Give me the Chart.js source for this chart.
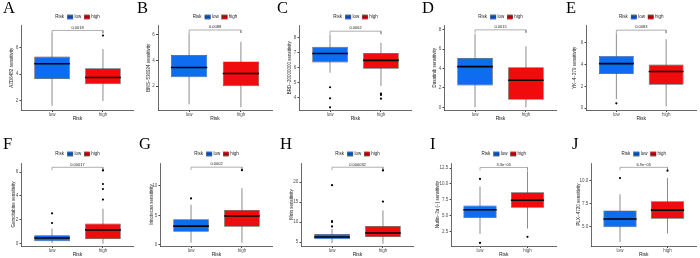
<!DOCTYPE html>
<html><head><meta charset="utf-8">
<script src="https://cdn.jsdelivr.net/npm/chart.js@4.4.0/dist/chart.umd.min.js"></script>
<style>
html,body{margin:0;padding:0;background:#fff}
body{width:700px;height:258px;position:relative;overflow:hidden}
canvas.p{position:absolute}
.lt{position:absolute;font-family:"Liberation Serif","DejaVu Serif",serif;font-size:16.5px;line-height:1;color:#000}
</style></head><body>
<script>
// ---------------- data ----------------
const panelLetters = ['A','B','C','D','E','F','G','H','I','J'];
const drugNames = ['AZD6482','BMS\u2212536924','BRD\u221220000000','Dasatinib','YK\u22124\u2212279',
                   'Gemcitabine','Irinotecan','Mirin','Nutlin\u22123a (\u2212)','PLX\u22124720'];
const groups = ['low','high'];
const legendTitle = 'Risk';
const xTitle = 'Risk';
const pValues = ['0.0018','0.0088','0.0062','0.0015','0.0083','0.00017','0.0002','0.000032','3.3e\u221205','6.9e\u221205'];
// box statistics [min, q1, median, q3, max]
const lowStats = [
  [1.63,3.65,4.78,5.33,7.08],
  [0.60,2.70,3.45,4.42,6.10],
  [5.64,6.33,6.93,7.38,8.20],
  [0.00,2.26,4.20,5.10,7.60],
  [0.82,3.14,4.09,4.80,6.87],
  [0.03,0.20,0.47,0.70,1.26],
  [0.39,2.22,3.17,4.33,6.78],
  [4.75,5.67,6.25,7.00,8.30],
  [2.14,4.64,5.95,6.62,9.60],
  [3.36,4.96,5.86,6.79,8.54]
];
const highStats = [
  [2.00,3.25,3.75,4.45,5.88],
  [0.37,2.00,2.98,3.92,5.44],
  [4.76,5.91,6.47,6.96,7.64],
  [0.00,0.77,2.80,4.14,6.30],
  [0.15,2.15,3.36,4.00,6.33],
  [0.00,0.39,1.15,1.68,2.93],
  [0.39,3.06,4.89,5.89,9.56],
  [4.58,6.25,7.25,9.00,12.90],
  [3.00,6.26,7.45,8.69,12.00],
  [4.29,5.89,6.82,7.79,10.30]
];
const lowOutliers = [[],[],[4.67,3.93,3.33],[],[0.43],[1.73,2.54],[7.83],[8.9,10.0,10.25,19.2],[10.8,0.74],[10.3]];
const highOutliers = [[6.9],[],[4.24,4.16,3.91],[],[],[3.69,4.58,5.0,6.14],[12.6],[15.1,22.9],[1.7],[11.1]];
const bracketY = [7.28,6.35,8.42,8.0,7.17,6.4,13.1,23.7,12.6,11.46];
const yMin = [1.32,0.16,3.15,-0.28,-0.18,-0.2,-0.17,4.0,0.25,2.93];
const yMax = [7.65,6.70,8.80,8.45,7.60,6.76,13.8,24.75,13.3,11.93];
const yTicks = [[2,4,6],[2,4,6],[4,5,6,7,8],[0,2,4,6,8],[0,2,4,6],[0,2,4,6],[0,5,10],[5,10,15,20],[2.5,5,7.5,10,12.5],[5,7.5,10]];
const yTickLabels = [['2','4','6'],['2','4','6'],['4','5','6','7','8'],['0','2','4','6','8'],['0','2','4','6'],
  ['0','2','4','6'],['0','5','10'],['5','10','15','20'],['2.5','5.0','7.5','10.0','12.5'],['5.0','7.5','10.0']];

// ---------------- layout / style ----------------
const PANEL_W = 140, PANEL_H = 129;
const LAYOUT = [
  {plotL:21.5, plotR:133.5, titleX:11.7, letterX:3},
  {plotL:158,  plotR:272,   titleX:149,  letterX:137},
  {plotL:299.5,plotR:411.5, titleX:290,  letterX:277},
  {plotL:444.5,plotR:556.5, titleX:435,  letterX:422},
  {plotL:586.5,plotR:698.5, titleX:575,  letterX:566},
  {plotL:21.5, plotR:133.5, titleX:14,   letterX:3},
  {plotL:160.5,plotR:272.5, titleX:152,  letterX:139},
  {plotL:301.5,plotR:413.5, titleX:292,  letterX:280},
  {plotL:451.5,plotR:559.5, titleX:438,  letterX:430},
  {plotL:591.5,plotR:699,   titleX:579,  letterX:572}
];
const ROWS = [
  {top:25.5, bottom:110, legendY:17, xTitlePad:7, letterTop:0},
  {top:34,   bottom:117, legendY:25, xTitlePad:0, letterTop:135.5}
];
const COLORS = ['#0d6cf0','#f00c0c'];
const BOX_BORDER = '#4d4d4d', WHISKER = '#8c8c8c', AXIS = '#444';
const BOX_WIDTH = 0.7;
const FONT = '"Liberation Sans", Arial, sans-serif';
Chart.defaults.font.family = FONT;

panelLetters.forEach((letter, i) => {
  const L = LAYOUT[i];
  const row = i < 5 ? 0 : 1, col = i % 5;
  const R = ROWS[row];
  const cx = col * PANEL_W, cy = row * PANEL_H;

  const canvas = document.createElement('canvas');
  canvas.width = PANEL_W; canvas.height = PANEL_H;
  canvas.className = 'p';
  canvas.style.left = cx + 'px'; canvas.style.top = cy + 'px';
  document.body.appendChild(canvas);

  const lt = document.createElement('div');
  lt.className = 'lt'; lt.textContent = letter;
  lt.style.left = L.letterX + 'px'; lt.style.top = R.letterTop + 'px';
  document.body.appendChild(lt);

  const stats = [lowStats[i], highStats[i]];
  const outl = [lowOutliers[i], highOutliers[i]];
  const drop = (yMax[i] - yMin[i]) * 0.035;

  const datasets = [];
  stats.forEach((s, g) => {
    const xv = g + 1;
    datasets.push({type:'line', data:[{x:xv, y:s[0]}, {x:xv, y:s[4]}], borderColor:WHISKER, borderWidth:1,
      pointRadius:0, order:5, isAux:true});
    datasets.push({type:'bar', label:groups[g], data:[{x:xv, y:[s[1], s[3]]}], backgroundColor:COLORS[g],
      borderColor:BOX_BORDER, borderWidth:0.7, borderSkipped:false, grouped:false,
      barPercentage:BOX_WIDTH, categoryPercentage:1, order:4, isBox:true});
    datasets.push({type:'line', data:[{x:xv - BOX_WIDTH/2, y:s[2]}, {x:xv + BOX_WIDTH/2, y:s[2]}],
      borderColor:'#000', borderWidth:1.6, pointRadius:0, order:3, isAux:true});
    datasets.push({type:'line', data:outl[g].map(v => ({x:xv, y:v})), showLine:false,
      pointRadius:1.1, pointBackgroundColor:'#000', pointBorderWidth:0, borderColor:'#000', order:1, isAux:true});
  });
  datasets.push({type:'line', data:[{x:1, y:bracketY[i]-drop},{x:1, y:bracketY[i]},{x:2, y:bracketY[i]},{x:2, y:bracketY[i]-drop}],
    borderColor:'#8c8c8c', borderWidth:0.7, pointRadius:0, order:2, isAux:true});

  const pPlugin = {
    id:'pval',
    afterDatasetsDraw(chart){
      const {ctx, scales:{x, y}} = chart;
      ctx.save();
      ctx.font = '4px ' + FONT;
      ctx.fillStyle = '#222';
      ctx.textAlign = 'center'; ctx.textBaseline = 'bottom';
      ctx.fillText(pValues[i], x.getPixelForValue(1.5), y.getPixelForValue(bracketY[i]) - 0.8);
      ctx.restore();
    }
  };
  const legendPlugin = {
    id:'riskLegend',
    afterDraw(chart){
      const {ctx, chartArea} = chart;
      ctx.save();
      ctx.font = '4.5px ' + FONT;
      ctx.textBaseline = 'middle';
      const boxW = 5.5, boxH = 4.2, gapKey = 1.6, gapItem = 3, gapTitle = 3.5;
      const boxes = chart.data.datasets.filter(d => d.isBox);
      let total = ctx.measureText(legendTitle).width + gapTitle;
      boxes.forEach((d, k) => { total += boxW + gapKey + ctx.measureText(d.label).width + (k < boxes.length-1 ? gapItem : 0); });
      let xpos = (chartArea.left + chartArea.right) / 2 - total / 2;
      const yc = R.legendY;
      ctx.fillStyle = '#222';
      ctx.fillText(legendTitle, xpos, yc);
      xpos += ctx.measureText(legendTitle).width + gapTitle;
      boxes.forEach((d, k) => {
        ctx.fillStyle = d.backgroundColor;
        ctx.fillRect(xpos, yc - boxH/2, boxW, boxH);
        ctx.strokeStyle = BOX_BORDER; ctx.lineWidth = 0.5;
        ctx.strokeRect(xpos, yc - boxH/2, boxW, boxH);
        ctx.beginPath(); ctx.moveTo(xpos, yc); ctx.lineTo(xpos + boxW, yc);
        ctx.strokeStyle = '#000'; ctx.lineWidth = 0.6; ctx.stroke();
        xpos += boxW + gapKey;
        ctx.fillStyle = '#222';
        ctx.fillText(d.label, xpos, yc);
        xpos += ctx.measureText(d.label).width + gapItem;
      });
      ctx.restore();
    }
  };

  new Chart(canvas, {
    type:'bar',
    data:{datasets},
    options:{
      responsive:false, animation:false, devicePixelRatio:1,
      layout:{padding:{left:0, right:cx + PANEL_W - L.plotR, top:R.top, bottom:0}},
      plugins:{legend:{display:false}, tooltip:{enabled:false}},
      scales:{
        x:{
          type:'linear', min:0.4, max:2.6, offset:false,
          afterBuildTicks: s => { s.ticks = [{value:1},{value:2}]; },
          afterFit: s => { s.height = PANEL_H - R.bottom; },
          ticks:{callback: v => groups[v - 1], font:{size:4.5}, color:'#4d4d4d', padding:0.5, autoSkip:false, maxRotation:0},
          grid:{display:true, drawOnChartArea:false, drawTicks:true, tickLength:2, color:AXIS, offset:false},
          border:{display:true, color:AXIS, width:0.8},
          title:{display:true, text:xTitle, font:{size:5}, color:'#222', padding:{top:0, bottom:R.xTitlePad}}
        },
        y:{
          type:'linear', min:yMin[i], max:yMax[i],
          afterBuildTicks: s => { s.ticks = yTicks[i].map(v => ({value:v})); },
          afterFit: s => { s.width = L.plotL - cx; },
          ticks:{callback: v => yTickLabels[i][yTicks[i].indexOf(v)], font:{size:4.5}, color:'#4d4d4d', padding:1.2, autoSkip:false},
          grid:{display:true, drawOnChartArea:false, drawTicks:true, tickLength:2, color:AXIS},
          border:{display:true, color:AXIS, width:0.8},
          title:{display:true, text:drugNames[i] + ' sensitivity', font:{size:4.5}, color:'#222',
                 padding:{top:(L.titleX - cx) - 2.7, bottom:0}}
        }
      }
    },
    plugins:[pPlugin, legendPlugin]
  });
});
</script>
</body></html>
